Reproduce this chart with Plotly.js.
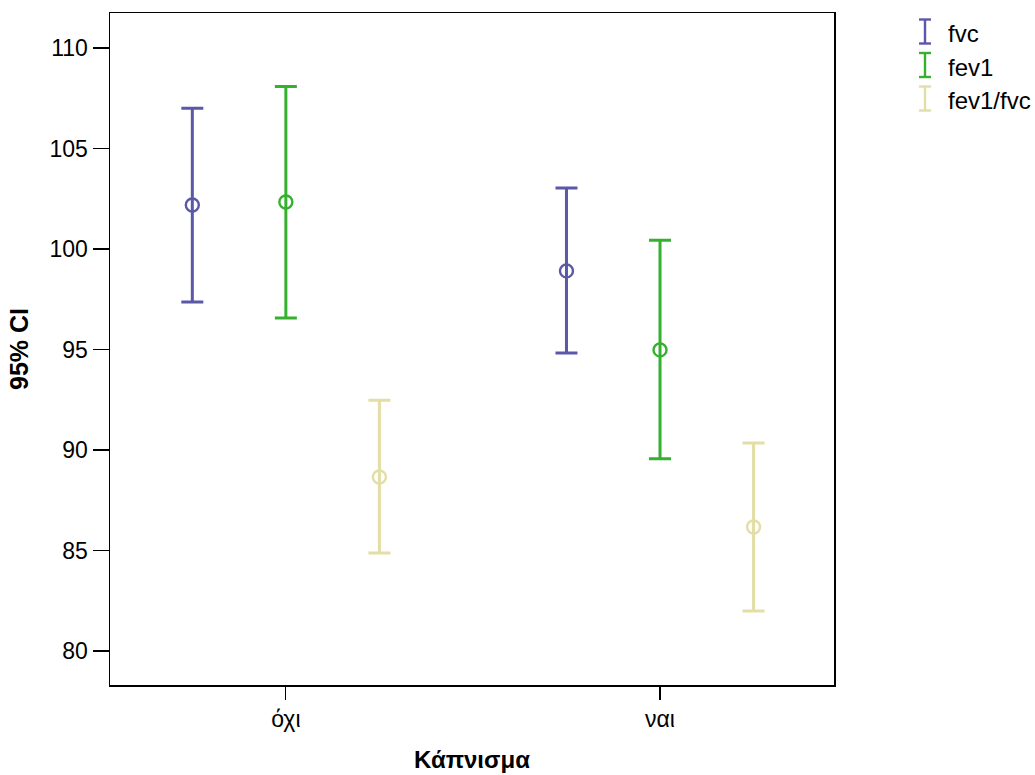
<!DOCTYPE html>
<html>
<head>
<meta charset="utf-8">
<script src="https://cdn.plot.ly/plotly-3.0.1.min.js"></script>
<style>html,body{margin:0;padding:0;background:#fff;}#chart{width:1035px;height:775px;}</style>
</head>
<body>
<div id="chart"></div>
<script>
const categories = ["όχι", "ναι"];
const seriesNames = ["fvc", "fev1", "fev1/fvc"];
const fvcMean = [102.19, 98.91];
const fvcUpper = [107.0, 103.03];
const fvcLower = [97.36, 94.83];
const fev1Mean = [102.34, 94.98];
const fev1Upper = [108.08, 100.43];
const fev1Lower = [96.57, 89.57];
const ratioMean = [88.66, 86.17];
const ratioUpper = [92.47, 90.35];
const ratioLower = [84.88, 81.99];
const colors = ["#5b58a8", "#35b12f", "#e3dea6"];

const means = [fvcMean, fev1Mean, ratioMean];
const uppers = [fvcUpper, fev1Upper, ratioUpper];
const lowers = [fvcLower, fev1Lower, ratioLower];
const dodge = 0.25;
const FONT = "Liberation Sans, Arial, sans-serif";

const traces = seriesNames.map((name, s) => {
  const xs = categories.map((c, i) => i + (s - 1) * dodge);
  return {
    type: "scatter", mode: "markers", name: name, showlegend: false,
    x: xs, y: means[s],
    marker: {symbol: "circle-open", size: 13, color: colors[s], line: {width: 2.4, color: colors[s]}},
    error_y: {
      type: "data", symmetric: false,
      array: means[s].map((m, i) => uppers[s][i] - m),
      arrayminus: means[s].map((m, i) => m - lowers[s][i]),
      color: colors[s], thickness: 3, width: 11
    },
    hoverinfo: "x+y"
  };
});

// legend drawn as I-glyph + text (paper coords)
const W = 724, H = 672, L = 110, T = 13;
const px = x => (x - L) / W;
const py = y => (T + H - y) / H;
const shapes = [];
const annotations = [];
seriesNames.forEach((name, s) => {
  const yc = 31.5 + s * 33.5;
  const x0 = 925;
  const lc = {color: colors[s], width: 2.4};
  shapes.push({type: "line", xref: "paper", yref: "paper", x0: px(x0), x1: px(x0), y0: py(yc - 12), y1: py(yc + 12), line: lc});
  shapes.push({type: "line", xref: "paper", yref: "paper", x0: px(x0 - 6), x1: px(x0 + 6), y0: py(yc - 12), y1: py(yc - 12), line: lc});
  shapes.push({type: "line", xref: "paper", yref: "paper", x0: px(x0 - 6), x1: px(x0 + 6), y0: py(yc + 12), y1: py(yc + 12), line: lc});
  annotations.push({xref: "paper", yref: "paper", x: px(946), y: py(yc + 2),
    xanchor: "left", yanchor: "middle", showarrow: false, text: name,
    font: {family: FONT, size: 24, color: "#000"}});
});

const layout = {
  width: 1035, height: 775,
  margin: {l: 110, r: 201, t: 13, b: 90},
  paper_bgcolor: "#fff", plot_bgcolor: "#fff",
  font: {family: FONT, size: 23, color: "#000"},
  xaxis: {
    range: [-0.47, 1.465], tickvals: categories.map((c, i) => i), ticktext: categories,
    tickfont: {family: FONT, size: 23, color: "#000"},
    showgrid: false, zeroline: false, showline: true, linecolor: "#000", linewidth: 1.5, mirror: true,
    ticks: "outside", ticklen: 13, tickwidth: 1.2, tickcolor: "#000",
    title: {text: "<b>Κάπνισμα</b>", font: {family: FONT, size: 24, color: "#000"}, standoff: 20}
  },
  yaxis: {
    range: [78.31, 111.74], tickvals: [80, 85, 90, 95, 100, 105, 110],
    tickfont: {family: FONT, size: 23, color: "#000"},
    showgrid: false, zeroline: false, showline: true, linecolor: "#000", linewidth: 1.5, mirror: true,
    ticks: "outside", ticklen: 16, tickwidth: 1.2, tickcolor: "#000",
    title: {text: "<b>95% CI</b>", font: {family: FONT, size: 25, color: "#000"}, standoff: 14}
  },
  shapes: shapes,
  annotations: annotations
};

Plotly.newPlot("chart", traces, layout, {displayModeBar: false, staticPlot: true});
</script>
</body>
</html>
